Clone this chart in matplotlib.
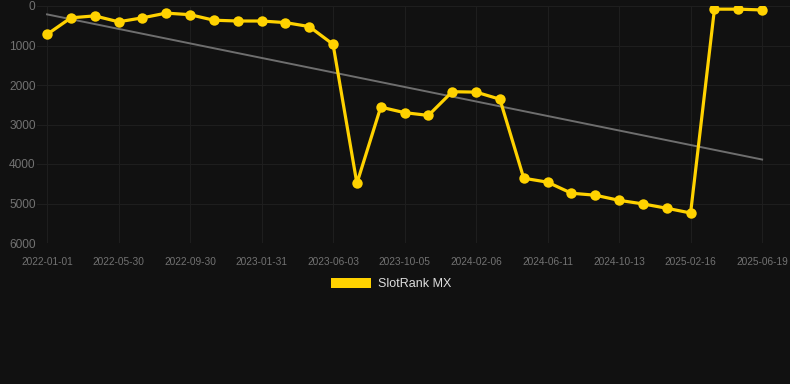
import matplotlib
matplotlib.use('Agg')
import matplotlib.pyplot as plt
import numpy as np
from matplotlib.patches import Patch

plt.rcParams['font.family'] = ['Liberation Sans', 'DejaVu Sans']

# Data (rank, lower is better)
series_name = 'SlotRank MX'
rank = [720, 300, 250, 400, 300, 180, 220, 360, 380, 380, 420, 520, 970,
        4490, 2560, 2700, 2770, 2170, 2180, 2360, 4360, 4460, 4740, 4790,
        4920, 5010, 5120, 5240, 80, 80, 100]
tick_labels = ['2022-01-01', '2022-05-30', '2022-09-30', '2023-01-31',
               '2023-06-03', '2023-10-05', '2024-02-06', '2024-06-11',
               '2024-10-13', '2025-02-16', '2025-06-19']
y_ticks = [0, 1000, 2000, 3000, 4000, 5000, 6000]

bg = '#111111'
gold = '#FFD200'
grid_col = '#1e1e1e'
text_col = '#727272'

x = np.arange(len(rank))
trend = np.polyval(np.polyfit(x, rank, 1), x)

W, H = 790, 384
fig = plt.figure(figsize=(W / 100, H / 100), dpi=100, facecolor=bg)
ax = fig.add_axes([37 / W, (H - 243) / H, (W - 37) / W, 237 / H])
ax.set_facecolor(bg)

ax.plot(x, trend, color='#6e6e6e', linewidth=1.4, zorder=2)
ax.plot(x, rank, color=gold, linewidth=2.3, marker='o', markersize=7.5,
        markeredgewidth=0, zorder=3)

ax.set_xlim(-0.42, 31.17)
ax.set_ylim(6000, 0)
ax.set_xticks(x[::3])
ax.set_xticklabels(tick_labels)
ax.set_yticks(y_ticks)
ax.set_yticklabels([str(v) for v in y_ticks])

ax.tick_params(axis='x', length=0, pad=10, labelsize=7.3, colors=text_col)
ax.tick_params(axis='y', length=0, pad=1, labelsize=8.6, colors=text_col)
ax.grid(True, color=grid_col, linewidth=0.8)
for s in ax.spines.values():
    s.set_visible(False)

fig.legend(handles=[Patch(facecolor=gold, edgecolor='none', label=series_name)],
           loc='center', bbox_to_anchor=(391 / W, 1 - 284 / H),
           frameon=False, fontsize=9, labelcolor='#dddddd',
           handlelength=3.2, handleheight=0.9, handletextpad=0.6)

fig.savefig('out.png', dpi=100, facecolor=bg)
